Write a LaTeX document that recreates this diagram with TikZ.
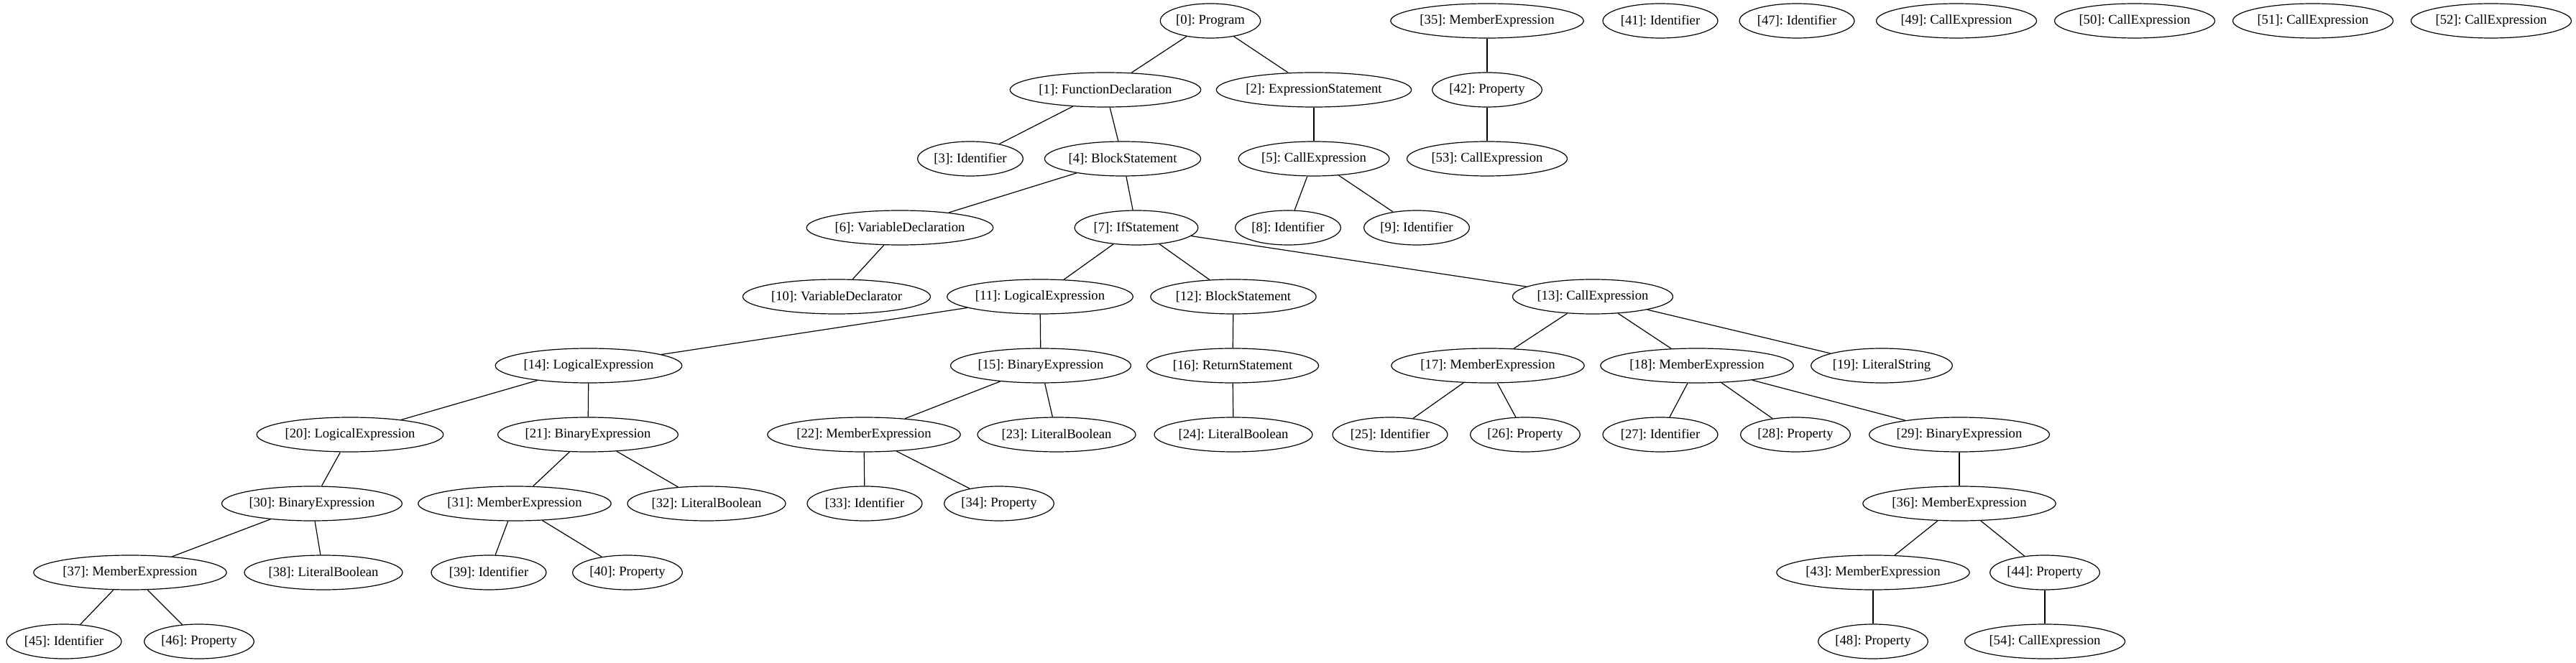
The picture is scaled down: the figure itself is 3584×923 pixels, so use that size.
\documentclass[tikz,border=0pt]{standalone}
\usepackage{fontspec}
\setmainfont{Liberation Serif}
\usetikzlibrary{shapes.geometric}
\frenchspacing

\begin{document}
\begin{tikzpicture}[x=0.75pt,y=-0.75pt]

      \useasboundingbox (0,0) rectangle (3584,923);

      \begin{scope}[every node/.style={ellipse,draw,line width=0.9pt,inner xsep=1pt,inner ysep=2pt,
          minimum width=54pt,minimum height=36pt,font=\fontsize{14}{16}\selectfont}]
        \node (0)  at (1684,29)  {[0]: Program};
        \node (1)  at (1538,125) {[1]: FunctionDeclaration};
        \node (2)  at (1828,125) {[2]: ExpressionStatement};
        \node (3)  at (1350,221) {[3]: Identifier};
        \node (4)  at (1562,221) {[4]: BlockStatement};
        \node (5)  at (1828,221) {[5]: CallExpression};
        \node (6)  at (1252,317) {[6]: VariableDeclaration};
        \node (7)  at (1581,317) {[7]: IfStatement};
        \node (8)  at (1792,317) {[8]: Identifier};
        \node (9)  at (1971,317) {[9]: Identifier};
        \node (10) at (1164,413) {[10]: VariableDeclarator};
        \node (11) at (1447,413) {[11]: LogicalExpression};
        \node (12) at (1716,413) {[12]: BlockStatement};
        \node (13) at (2216,413) {[13]: CallExpression};
        \node (14) at (819,509)  {[14]: LogicalExpression};
        \node (15) at (1448,509) {[15]: BinaryExpression};
        \node (16) at (1715,509) {[16]: ReturnStatement};
        \node (17) at (2070,509) {[17]: MemberExpression};
        \node (18) at (2361,509) {[18]: MemberExpression};
        \node (19) at (2618,509) {[19]: LiteralString};
        \node (20) at (487,605)  {[20]: LogicalExpression};
        \node (21) at (818,605)  {[21]: BinaryExpression};
        \node (22) at (1202,605) {[22]: MemberExpression};
        \node (23) at (1470,605) {[23]: LiteralBoolean};
        \node (24) at (1716,605) {[24]: LiteralBoolean};
        \node (25) at (1934,605) {[25]: Identifier};
        \node (26) at (2122,605) {[26]: Property};
        \node (27) at (2310,605) {[27]: Identifier};
        \node (28) at (2498,605) {[28]: Property};
        \node (29) at (2726,605) {[29]: BinaryExpression};
        \node (30) at (434,701)  {[30]: BinaryExpression};
        \node (31) at (716,701)  {[31]: MemberExpression};
        \node (32) at (983,701)  {[32]: LiteralBoolean};
        \node (33) at (1203,701) {[33]: Identifier};
        \node (34) at (1390,701) {[34]: Property};
        \node (35) at (2069,29)  {[35]: MemberExpression};
        \node (36) at (2726,701) {[36]: MemberExpression};
        \node (37) at (181,797)  {[37]: MemberExpression};
        \node (38) at (450,797)  {[38]: LiteralBoolean};
        \node (39) at (680,797)  {[39]: Identifier};
        \node (40) at (873,797)  {[40]: Property};
        \node (41) at (2310,29)  {[41]: Identifier};
        \node (42) at (2069,125) {[42]: Property};
        \node (43) at (2606,797) {[43]: MemberExpression};
        \node (44) at (2845,797) {[44]: Property};
        \node (45) at (89,893)   {[45]: Identifier};
        \node (46) at (277,893)  {[46]: Property};
        \node (47) at (2500,29)  {[47]: Identifier};
        \node (48) at (2606,893) {[48]: Property};
        \node (49) at (2722,29)  {[49]: CallExpression};
        \node (50) at (2970,29)  {[50]: CallExpression};
        \node (51) at (3218,29)  {[51]: CallExpression};
        \node (52) at (3466,29)  {[52]: CallExpression};
        \node (53) at (2069,221) {[53]: CallExpression};
        \node (54) at (2845,893) {[54]: CallExpression};
      \end{scope}

      \begin{scope}[every edge/.style={draw,line width=0.9pt}]
        \path (0)  edge (1);
        \path (0)  edge (2);
        \path (1)  edge (3);
        \path (1)  edge (4);
        \path (2)  edge (5);
        \path (4)  edge (6);
        \path (4)  edge (7);
        \path (5)  edge (8);
        \path (5)  edge (9);
        \path (6)  edge (10);
        \path (7)  edge (11);
        \path (7)  edge (12);
        \path (7)  edge (13);
        \path (11) edge (14);
        \path (11) edge (15);
        \path (12) edge (16);
        \path (13) edge (17);
        \path (13) edge (18);
        \path (13) edge (19);
        \path (14) edge (20);
        \path (14) edge (21);
        \path (15) edge (22);
        \path (15) edge (23);
        \path (16) edge (24);
        \path (17) edge (25);
        \path (17) edge (26);
        \path (18) edge (27);
        \path (18) edge (28);
        \path (18) edge (29);
        \path (20) edge (30);
        \path (21) edge (31);
        \path (21) edge (32);
        \path (22) edge (33);
        \path (22) edge (34);
        \path (29) edge (36);
        \path (30) edge (37);
        \path (30) edge (38);
        \path (31) edge (39);
        \path (31) edge (40);
        \path (35) edge (42);
        \path (42) edge (53);
        \path (36) edge (43);
        \path (36) edge (44);
        \path (37) edge (45);
        \path (37) edge (46);
        \path (43) edge (48);
        \path (44) edge (54);
      \end{scope}

    \end{tikzpicture}
\end{document}
